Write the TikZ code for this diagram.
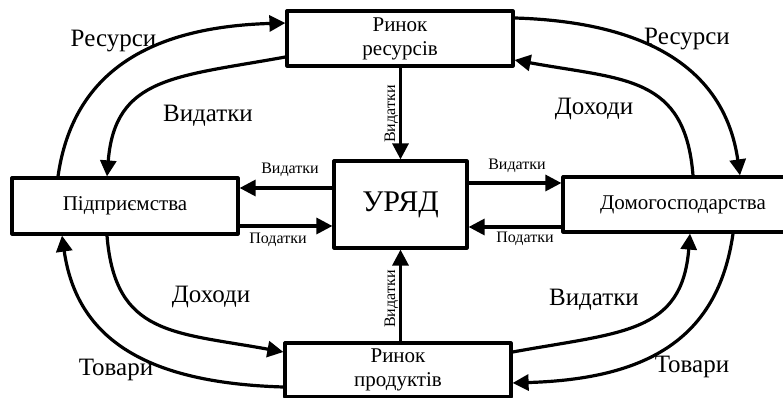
\documentclass[tikz,border=0pt]{standalone}
\usepackage{fontspec}
\setmainfont{Liberation Serif}
\usetikzlibrary{arrows.meta}
\begin{document}
\begin{tikzpicture}[x=1pt,y=1pt,
  box/.style={draw, line width=3.2pt, line join=round, inner sep=0pt, align=center},
  arr/.style={line width=3.2pt, -{Triangle[length=16pt,width=16pt]}},
  small/.style={font=\fontsize{16}{18}\selectfont, anchor=base, inner sep=0pt},
  big/.style={font=\fontsize{25}{28}\selectfont, anchor=base, inner sep=0pt},
  boxfont/.style={font=\fontsize{21}{24}\selectfont}]
\useasboundingbox (0,0) rectangle (783,398);
% boxes
\node[box, boxfont, minimum width=226pt, minimum height=55pt] (rr) at (400,359.5) {Ринок\\ресурсів};
\node[box, boxfont, minimum width=226pt, minimum height=56pt] (firm) at (125,192) {Підприємства};
\node[box, font=\fontsize{30}{34}\selectfont, minimum width=133pt, minimum height=87pt] (gov) at (400.5,193.5) {УРЯД};
\node[box, boxfont, minimum width=240pt, minimum height=55pt] (hh) at (683,193.5) {Домогосподарства};
\node[box, boxfont, minimum width=226pt, minimum height=54pt] (rp) at (398,28) {Ринок\\продуктів};
% straight arrows
\draw[arr] (rr.south -| gov.north) -- (gov.north);
\draw[arr] (gov.south |- rp.north) -- (gov.south);
\coordinate (gl1) at ([yshift=16.5pt]gov.west);
\coordinate (gl2) at ([yshift=-21.5pt]gov.west);
\coordinate (gr1) at ([yshift=21.5pt]gov.east);
\coordinate (gr2) at ([yshift=-22.5pt]gov.east);
\draw[arr] (gl1) -- (gl1 -| firm.east);
\draw[arr] (gl2 -| firm.east) -- (gl2);
\draw[arr] (gr1) -- (gr1 -| hh.west);
\draw[arr] (gr2 -| hh.west) -- (gr2);
% small labels
\node[small] (lv1) at (290,224) {Видатки};
\node[small] (lp1) at (278,154) {Податки};
\node[small] (lv2) at (517,228) {Видатки};
\node[small] (lp2) at (525,155) {Податки};
\node[small, rotate=90] (lvt) at (395,284) {Видатки};
\node[small, rotate=90] (lvb) at (395,99) {Видатки};
% curved arrows
\draw[arr] (58,0 |- firm.north) .. controls +(15,105) and +(-135,-4) .. (rr.west |- 0,375);
\draw[arr] (rr.west |- 0,341) .. controls +(-110,-20) and +(8,100) .. (107,0 |- firm.north);
\draw[arr] (rr.east |- 0,380) .. controls +(135,-4) and +(-15,105) .. (740,0 |- hh.north);
\draw[arr] (693,0 |- hh.north) .. controls +(-8,100) and +(110,-20) .. (rr.east |- 0,338);
\draw[arr] (107,0 |- firm.south) .. controls +(8,-100) and +(-110,20) .. (rp.west |- 0,46);
\draw[arr] (rp.west |- 0,11) .. controls +(-135,4) and +(15,-105) .. (62,0 |- firm.south);
\draw[arr] (rp.east |- 0,46) .. controls +(110,20) and +(-8,-100) .. (690,0 |- hh.south);
\draw[arr] (733,0 |- hh.south) .. controls +(-15,-105) and +(135,4) .. (rp.east |- 0,15);
% big labels
\node[big] (b1) at (113.5,351) {Ресурси};
\node[big] (b2) at (208,276) {Видатки};
\node[big] (b3) at (687,353) {Ресурси};
\node[big] (b4) at (594,283) {Доходи};
\node[big] (b5) at (211,95) {Доходи};
\node[big] (b6) at (116,22) {Товари};
\node[big] (b7) at (594,92) {Видатки};
\node[big] (b8) at (692,25) {Товари};
\end{tikzpicture}
\end{document}
